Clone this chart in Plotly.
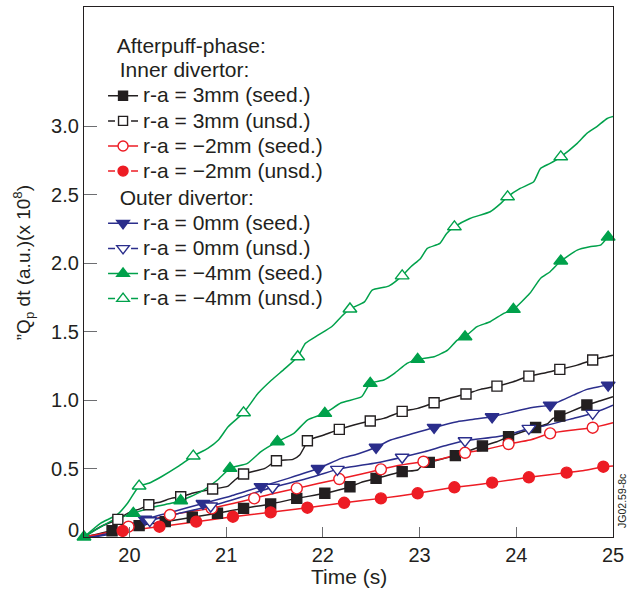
import plotly.graph_objects as go

# ---- data: time (s) and integrated values (a.u., x 1e8) ----
# Curve points (line shape) and marker points for each series.

# Inner divertor, r-a = 3mm, seeded
t_in3_seed = [19.53, 22.39, 22.98, 23.03, 23.80, 24.32, 24.38, 24.87, 25.00]
v_in3_seed = [0.000, 0.397, 0.489, 0.526, 0.696, 0.825, 0.866, 0.995, 1.024]
tm_in3_seed = [19.82, 20.10, 20.37, 20.65, 20.91, 21.18, 21.46, 21.73, 22.02, 22.28,
               22.55, 22.82, 23.10, 23.37, 23.65, 23.92, 24.20, 24.45, 24.73]
vm_in3_seed = [0.046, 0.083, 0.112, 0.144, 0.173, 0.209, 0.241, 0.282, 0.319, 0.367,
               0.428, 0.477, 0.545, 0.594, 0.664, 0.732, 0.800, 0.883, 0.964]

# Inner divertor, r-a = 3mm, unseeded
t_in3_unsd = [19.53, 19.70, 19.98, 20.12, 20.33, 20.43, 20.67, 20.81, 21.02, 21.09,
              21.40, 21.69, 21.76, 21.81, 22.01, 22.32, 22.63, 22.98, 23.30, 23.63,
              23.97, 24.28, 24.63, 24.90, 25.00]
v_in3_unsd = [0.000, 0.075, 0.173, 0.209, 0.258, 0.282, 0.323, 0.343, 0.372, 0.416,
              0.501, 0.567, 0.599, 0.659, 0.745, 0.818, 0.866, 0.939, 1.012, 1.078,
              1.134, 1.195, 1.255, 1.312, 1.328]
tm_in3_unsd = [19.88, 20.20, 20.53, 20.86, 21.18, 21.52, 21.84, 22.17, 22.49, 22.82,
               23.15, 23.48, 23.80, 24.13, 24.45, 24.79]
vm_in3_unsd = [0.129, 0.236, 0.294, 0.350, 0.460, 0.557, 0.703, 0.786, 0.847, 0.917,
               0.980, 1.044, 1.102, 1.175, 1.224, 1.292]

# Inner divertor, r-a = -2mm, seeded
t_inm2_seed = [19.53, 19.75, 20.20, 20.63, 21.07, 21.50, 21.95, 22.40, 22.81, 23.21,
               23.66, 24.14, 24.59, 25.00]
v_inm2_seed = [0.000, 0.030, 0.120, 0.185, 0.245, 0.320, 0.390, 0.460, 0.526, 0.567,
               0.635, 0.708, 0.781, 0.834]
tm_inm2_seed = [19.99, 20.42, 20.85, 21.29, 21.73, 22.17, 22.60, 23.04, 23.47, 23.92,
                24.35, 24.79]
vm_inm2_seed = [0.075, 0.161, 0.209, 0.282, 0.355, 0.423, 0.494, 0.550, 0.615, 0.679,
                0.757, 0.798]

# Inner divertor, r-a = -2mm, unseeded
t_inm2_unsd = [19.53, 19.75, 23.55, 24.70, 25.00]
v_inm2_unsd = [0.000, 0.020, 0.378, 0.485, 0.518]
tm_inm2_unsd = [19.93, 20.31, 20.69, 21.07, 21.46, 21.84, 22.22, 22.60, 22.98, 23.36,
                23.75, 24.13, 24.52, 24.90]
vm_inm2_unsd = [0.044, 0.075, 0.112, 0.148, 0.180, 0.214, 0.250, 0.282, 0.319, 0.363,
                0.397, 0.436, 0.470, 0.513]

# Outer divertor, r-a = 0mm, seeded
t_out0_seed = [19.80, 20.00, 20.45, 21.05, 21.65, 22.19, 22.36, 22.70, 22.94, 23.39,
               23.56, 23.97, 24.18, 24.59, 24.73, 25.00]
v_out0_seed = [0.030, 0.090, 0.185, 0.300, 0.430, 0.574, 0.606, 0.708, 0.757, 0.842,
               0.859, 0.915, 0.947, 1.036, 1.078, 1.110]
tm_out0_seed = [19.53, 20.16, 20.76, 21.36, 21.95, 22.55, 23.15, 23.75, 24.35, 24.95]
vm_out0_seed = [-0.010, 0.130, 0.245, 0.368, 0.500, 0.655, 0.800, 0.878, 0.963, 1.109]

# Outer divertor, r-a = 0mm, unseeded
t_out0_unsd = [19.53, 19.80, 20.00, 20.50, 21.15, 21.80, 22.19, 22.53, 23.05, 23.29,
               23.80, 23.97, 24.25, 24.59, 25.00]
v_out0_unsd = [-0.010, 0.020, 0.070, 0.170, 0.290, 0.420, 0.501, 0.538, 0.623, 0.672,
               0.732, 0.757, 0.805, 0.866, 0.963]
tm_out0_unsd = [20.21, 20.84, 21.48, 22.15, 22.82, 23.47, 24.13, 24.79]
vm_out0_unsd = [0.119, 0.226, 0.363, 0.494, 0.582, 0.703, 0.793, 0.903]

# Outer divertor, r-a = -4mm, seeded
t_outm4_seed = [19.80, 20.26, 20.43, 20.74, 20.91, 21.22, 21.36, 21.70, 21.84, 22.19,
                22.40, 22.63, 22.74, 22.87, 23.15, 23.29, 23.39, 23.59, 23.73, 23.87,
                24.14, 24.25, 24.35, 24.63, 24.76, 24.87, 25.00]
v_outm4_seed = [0.112, 0.221, 0.246, 0.331, 0.416, 0.538, 0.623, 0.757, 0.854, 0.980,
                1.024, 1.146, 1.195, 1.268, 1.316, 1.365, 1.438, 1.535, 1.572, 1.633,
                1.779, 1.888, 1.937, 2.095, 2.119, 2.131, 2.190]
tm_outm4_seed = [19.53, 20.04, 20.53, 21.04, 21.53, 22.02, 22.49, 22.98, 23.47, 23.97,
                 24.46, 24.95]
vm_outm4_seed = [0.000, 0.173, 0.265, 0.501, 0.696, 0.903, 1.122, 1.297, 1.462, 1.662,
                 2.015, 2.190]

# Outer divertor, r-a = -4mm, unseeded
t_outm4_unsd = [19.53, 19.70, 19.87, 19.98, 20.20, 20.33, 20.50, 20.81, 20.92, 21.02,
                21.33, 21.47, 21.61, 21.82, 21.95, 22.09, 22.19, 22.43, 22.51, 22.68,
                22.91, 23.01, 23.08, 23.21, 23.28, 23.52, 23.73, 23.84, 24.04, 24.18,
                24.25, 24.35, 24.63, 24.73, 24.83, 24.94, 25.00]
v_outm4_unsd = [0.000, 0.100, 0.161, 0.246, 0.392, 0.440, 0.513, 0.647, 0.708, 0.805,
                1.049, 1.146, 1.231, 1.414, 1.474, 1.535, 1.608, 1.717, 1.803, 1.832,
                1.973, 2.034, 2.107, 2.144, 2.217, 2.326, 2.375, 2.436, 2.545, 2.594,
                2.691, 2.728, 2.874, 2.947, 2.995, 3.056, 3.070]
tm_outm4_unsd = [20.10, 20.66, 21.18, 21.74, 22.28, 22.82, 23.36, 23.91, 24.46]
vm_outm4_unsd = [0.372, 0.591, 0.907, 1.316, 1.665, 1.907, 2.265, 2.484, 2.776]

x_ticks = [20, 21, 22, 23, 24, 25]
y_ticks = [0.5, 1.0, 1.5, 2.0, 2.5, 3.0]
y_ticktext = ["0.5", "1.0", "1.5", "2.0", "2.5", "3.0"]

# ---- styling ----
BLACK = "#231f20"
RED = "#ed1c24"
BLUE = "#2b2e8c"
GREEN = "#00a14b"
FONT = "Liberation Sans, Arial, Helvetica, sans-serif"
LW = 1.5

series = [
    # (label, group, color, symbol, filled, dashed legend, curve t, curve v, marker t, marker v, size)
    ("r-a = 3mm (seed.)", "inner", BLACK, "square", True, False,
     t_in3_seed, v_in3_seed, tm_in3_seed, vm_in3_seed, 10),
    ("r-a = 3mm (unsd.)", "inner", BLACK, "square", False, True,
     t_in3_unsd, v_in3_unsd, tm_in3_unsd, vm_in3_unsd, 10),
    ("r-a = \u22122mm (seed.)", "inner", RED, "circle", False, False,
     t_inm2_seed, v_inm2_seed, tm_inm2_seed, vm_inm2_seed, 11),
    ("r-a = \u22122mm (unsd.)", "inner", RED, "circle", True, True,
     t_inm2_unsd, v_inm2_unsd, tm_inm2_unsd, vm_inm2_unsd, 11),
    ("r-a = 0mm (seed.)", "outer", BLUE, "triangle-down", True, False,
     t_out0_seed, v_out0_seed, tm_out0_seed, vm_out0_seed, 12),
    ("r-a = 0mm (unsd.)", "outer", BLUE, "triangle-down", False, True,
     t_out0_unsd, v_out0_unsd, tm_out0_unsd, vm_out0_unsd, 12),
    ("r-a = \u22124mm (seed.)", "outer", GREEN, "triangle-up", True, False,
     t_outm4_seed, v_outm4_seed, tm_outm4_seed, vm_outm4_seed, 12),
    ("r-a = \u22124mm (unsd.)", "outer", GREEN, "triangle-up", False, True,
     t_outm4_unsd, v_outm4_unsd, tm_outm4_unsd, vm_outm4_unsd, 12),
]

group_titles = {"inner": "Inner divertor:", "outer": "Outer divertor:"}


def span(text, size=21):
    return '<span style="font-size:%dpx">%s</span>' % (size, text)


fig = go.Figure()

# data curves: the line runs through both the shape points and the marker points
for name, grp, col, sym, filled, dashed, tc, vc, tm, vm, size in series:
    pts = sorted(zip(list(tc) + list(tm), list(vc) + list(vm)))
    fig.add_trace(go.Scatter(
        x=[p[0] for p in pts], y=[p[1] for p in pts], mode="lines",
        line=dict(color=col, width=LW, shape="spline", smoothing=0.5),
        showlegend=False, hoverinfo="skip"))

for name, grp, col, sym, filled, dashed, tc, vc, tm, vm, size in series:
    fig.add_trace(go.Scatter(
        x=tm, y=vm, mode="markers", showlegend=False, cliponaxis=False,
        marker=dict(symbol=sym, size=size, color=col if filled else "white",
                    line=dict(color=col, width=1.4))))

# legend entries
for name, grp, col, sym, filled, dashed, tc, vc, tm, vm, size in series:
    fig.add_trace(go.Scatter(
        x=[None], y=[None], mode="lines+markers", name=span(name),
        legendgroup=grp,
        legendgrouptitle=dict(text=span("\u00a0\u00a0" + group_titles[grp]),
                              font=dict(size=17, color=BLACK, family=FONT)),
        line=dict(color=col, width=LW, dash="7px,16px" if dashed else "solid"),
        marker=dict(symbol=sym, size=size - 1, color=col if filled else "white",
                    line=dict(color=col, width=1.4))))

axis_common = dict(showline=True, mirror=True, linecolor=BLACK, linewidth=1.3,
                   showgrid=False, zeroline=False, ticks="inside",
                   tickcolor="#6d6e71", tickwidth=1.3,
                   tickfont=dict(size=20, color=BLACK, family=FONT))

fig.update_xaxes(range=[19.53, 25.0], tickvals=x_ticks, ticklen=10, **axis_common)
fig.update_yaxes(range=[0.0, 3.87], tickvals=y_ticks, ticktext=y_ticktext,
                 ticklen=13, **axis_common)

fig.update_layout(
    width=633, height=589, autosize=False,
    margin=dict(l=84, r=20, t=7, b=52),
    paper_bgcolor="white", plot_bgcolor="white",
    font=dict(family=FONT, color=BLACK),
    showlegend=True,
    legend=dict(
        x=0.036, y=0.962, xanchor="left", yanchor="top",
        bgcolor="rgba(0,0,0,0)", borderwidth=0,
        font=dict(size=17, color=BLACK, family=FONT),
        tracegroupgap=2, traceorder="grouped", itemwidth=30,
        title=dict(text=span("\u00a0\u00a0Afterpuff-phase:"),
                   font=dict(size=20, color=BLACK, family=FONT)),
    ),
    annotations=[
        # y-axis label for the zero tick, lifted off the x axis
        dict(text="0", x=0, y=0, xref="paper", yref="y", xanchor="right",
             yanchor="middle", xshift=-3, yshift=7, showarrow=False,
             font=dict(size=20, color=BLACK, family=FONT)),
        dict(text="Time (s)", x=0.5, y=-0.074, xref="paper", yref="paper",
             xanchor="center", yanchor="middle", showarrow=False,
             font=dict(size=21, color=BLACK, family=FONT)),
        dict(text="\u201dQ<sub>p</sub> dt (a.u.)(x 10<sup>8</sup>)",
             x=-0.113, y=0.517, xref="paper", yref="paper", textangle=-90,
             xanchor="center", yanchor="middle", showarrow=False,
             font=dict(size=19, color=BLACK, family=FONT)),
        dict(text="JG02.59-8c", x=1.0, y=0.068, xref="paper", yref="paper",
             textangle=-90, xanchor="center", yanchor="middle", xshift=9,
             showarrow=False, font=dict(size=10.5, color=BLACK, family=FONT)),
    ],
)

fig.write_html("out.html")
